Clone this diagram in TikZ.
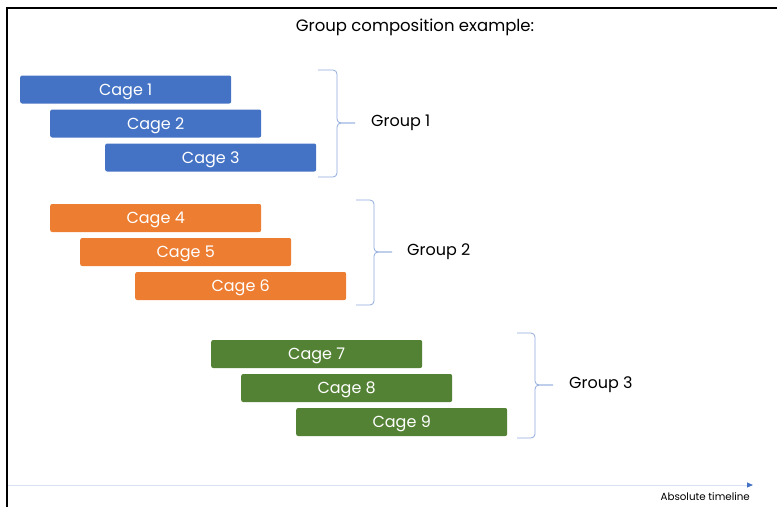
\documentclass[tikz,border=0pt]{standalone}
\usepackage{fontspec}
\setmainfont{Poppins}
\usetikzlibrary{arrows.meta}

\definecolor{cageblue}{HTML}{4472C4}
\definecolor{cageorange}{HTML}{ED7D31}
\definecolor{cagegreen}{HTML}{548235}
\definecolor{bracecol}{HTML}{8FAADC}
\definecolor{timecol}{HTML}{DAE3F3}

\tikzset{
  cage/.style={anchor=west, minimum width=211pt, minimum height=28pt,
    rounded corners=2pt, text=white, inner sep=0pt,
    text height=11.5pt, text depth=0pt,
    font=\fontsize{16}{19}\selectfont},
  grouplabel/.style={anchor=west, inner sep=0pt, text height=11.5pt, text depth=0pt,
    yshift=2pt, font=\fontsize{16}{19}\selectfont},
  brace/.style={bracecol, line width=0.8pt, rounded corners=4pt}
}

\begin{document}
\begin{tikzpicture}[x=1pt, y=-1pt]
    \useasboundingbox (0,0) rectangle (777,507);

    % frame
    \draw[line width=2pt] (7,507) -- (7,8) -- (777,8);

    \node[text height=11.5pt, text depth=0pt, font=\fontsize{16.5}{19}\selectfont] (title) at (415,26) {Group composition example:};

    % group 1
    \node[cage, fill=cageblue] (cage1) at (20,89.5) {Cage 1};
    \node[cage, fill=cageblue] (cage2) at (50,123.5) {Cage 2};
    \node[cage, fill=cageblue] (cage3) at (105,157.5) {Cage 3};

    % group 2
    \node[cage, fill=cageorange] (cage4) at (50,218) {Cage 4};
    \node[cage, fill=cageorange] (cage5) at (80,252) {Cage 5};
    \node[cage, fill=cageorange] (cage6) at (135,286) {Cage 6};

    % group 3
    \node[cage, fill=cagegreen] (cage7) at (211,354) {Cage 7};
    \node[cage, fill=cagegreen] (cage8) at (241,388) {Cage 8};
    \node[cage, fill=cagegreen] (cage9) at (296,422) {Cage 9};

    % braces
    \draw[brace] (318,70) -- (337,70) -- (337,123) -- (355,123);
    \draw[brace] (318,177) -- (337,177) -- (337,123) -- (355,123);
    \coordinate (tip1) at (355,123);
    \node[grouplabel] (group1) at ([xshift=16pt]tip1) {Group 1};

    \draw[brace] (356,200) -- (374,200) -- (374,252) -- (392,252);
    \draw[brace] (356,305) -- (374,305) -- (374,252) -- (392,252);
    \coordinate (tip2) at (392,252);
    \node[grouplabel] (group2) at ([xshift=15pt]tip2) {Group 2};

    \draw[brace] (517,333) -- (535,333) -- (535,385) -- (553,385);
    \draw[brace] (517,438) -- (535,438) -- (535,385) -- (553,385);
    \coordinate (tip3) at (553,385);
    \node[grouplabel] (group3) at ([xshift=16pt]tip3) {Group 3};

    % timeline
    \coordinate (tstart) at (8,485);
    \coordinate (tend) at (753,485);
    \draw[timecol, line width=1pt, -{Triangle[color=cageblue, length=6pt, width=5pt]}] (tstart) -- (tend);
    \node[anchor=north east, inner sep=0pt, font=\fontsize{10.3}{12}\selectfont] (tlabel) at (750,492) {Absolute timeline};
\end{tikzpicture}
\end{document}
